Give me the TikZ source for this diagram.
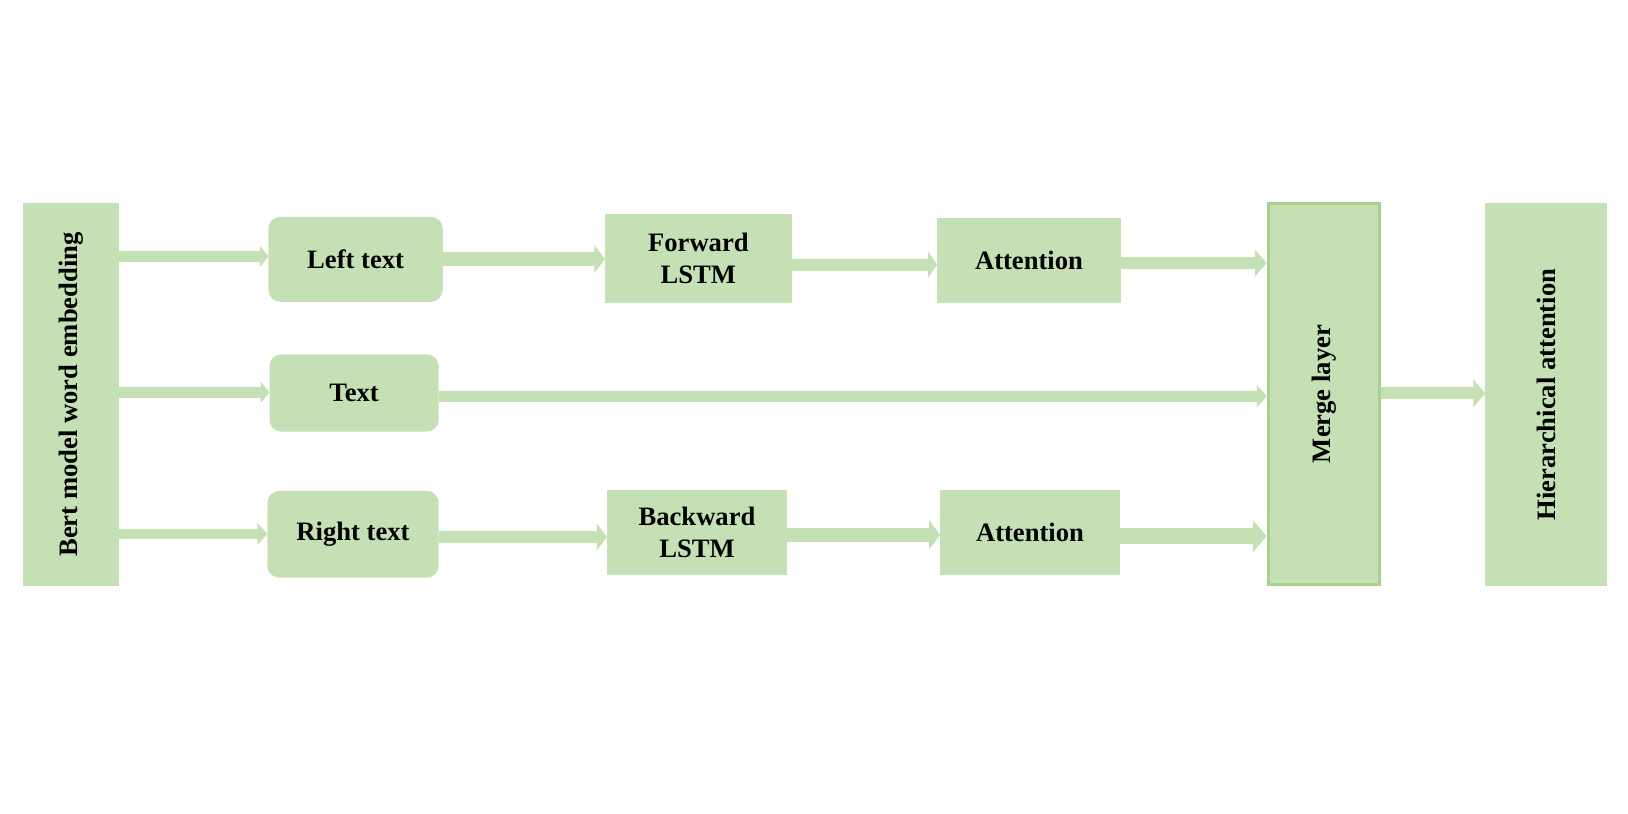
\documentclass[tikz,border=0pt]{standalone}
\usepackage{fontspec}
\usepackage{graphicx}
\setmainfont{Liberation Serif}
\usetikzlibrary{arrows.meta}
\definecolor{boxgreen}{HTML}{C5E0B4}
\definecolor{edgegreen}{HTML}{A9D18E}
\begin{document}
\begin{tikzpicture}[x=1pt,y=-1pt,
  box/.style={fill=boxgreen, draw=none, inner sep=0pt, outer sep=0pt, align=center,
    font=\bfseries\fontsize{26.6}{32}\selectfont},
  rbox/.style={box, rounded corners=12pt},
  arr/.style args={#1/#2/#3}{draw=boxgreen, line width=#1pt,
    -{Triangle[length=#3pt, width=#2pt]}, shorten <=0pt}
]
\useasboundingbox (0,0) rectangle (1628,814);
\fill[white] (0,0) rectangle (1628,814);

\node[box, minimum width=96.1pt, minimum height=382.4pt] (bert) at (70.85,394.5)
  {\rotatebox{90}{Bert model word embedding}};
\node[rbox, minimum width=174.5pt, minimum height=85pt] (left) at (355.6,259.3) {Left text};
\node[rbox, minimum width=169.2pt, minimum height=77.4pt] (text) at (354.1,393) {Text};
\node[rbox, minimum width=171.3pt, minimum height=86.7pt] (right) at (353,534.3) {Right text};
\node[box, minimum width=186.9pt, minimum height=88.7pt] (fwd) at (698.4,258.4) {Forward\\LSTM};
\node[box, minimum width=180.1pt, minimum height=84.7pt] (bwd) at (697,532.3) {Backward\\LSTM};
\node[box, minimum width=183.9pt, minimum height=84.7pt] (att1) at (1029,260.3) {Attention};
\node[box, minimum width=179.6pt, minimum height=84.7pt] (att2) at (1030,532.3) {Attention};
\node[box, draw=edgegreen, line width=2.7pt, minimum width=111.5pt, minimum height=380.7pt]
  (merge) at (1323.9,394) {\rotatebox{90}{Merge layer}};
\node[box, minimum width=122pt, minimum height=382.4pt] (hier) at (1546.3,394.5)
  {\rotatebox{90}{Hierarchical attention}};

% connectors
\draw[arr=10.7/21/8.5] (bert.east |- 0,256.3) -- (left.west |- 0,256.3);
\draw[arr=14/27/10.5] (left.east |- 0,259) -- (fwd.west |- 0,259);
\draw[arr=12/26/9] (fwd.east |- 0,264.7) -- (att1.west |- 0,264.7);
\draw[arr=12.5/26.3/12] (att1.east |- 0,263) -- ([xshift=-1.35pt]merge.west |- 0,263);
\draw[arr=10.7/21.5/9] (bert.east |- 0,392.3) -- (text.west |- 0,392.3);
\draw[arr=11/21.6/10] (text.east |- 0,396.2) -- ([xshift=-1.35pt]merge.west |- 0,396.2);
\draw[arr=9.4/21.7/10] (bert.east |- 0,534) -- (right.west |- 0,534);
\draw[arr=12.6/26/10] (right.east |- 0,537) -- (bwd.west |- 0,537);
\draw[arr=13.7/28.3/11] (bwd.east |- 0,534.8) -- (att2.west |- 0,534.8);
\draw[arr=15.7/31.3/14] (att2.east |- 0,536.2) -- ([xshift=-1.35pt]merge.west |- 0,536.2);
\draw[arr=12/27.3/12] ([xshift=1.35pt]merge.east |- 0,393.3) -- (hier.west |- 0,393.3);
\end{tikzpicture}
\end{document}
